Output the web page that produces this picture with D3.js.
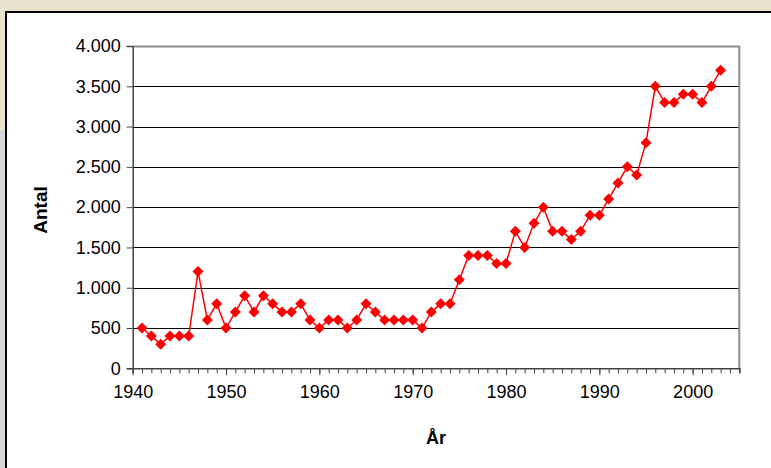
<!DOCTYPE html>
<html>
<head>
<meta charset="utf-8">
<script src="https://cdn.jsdelivr.net/npm/d3@7"></script>
<style>
  body { margin: 0; background: #e8e4cc; }
  svg { display: block; font-family: "Liberation Sans", Arial, sans-serif; }
</style>
</head>
<body>
<div class="content"></div>
<script>
// years and yearly counts (Antal)
var years = [1941,1942,1943,1944,1945,1946,1947,1948,1949,1950,
             1951,1952,1953,1954,1955,1956,1957,1958,1959,1960,
             1961,1962,1963,1964,1965,1966,1967,1968,1969,1970,
             1971,1972,1973,1974,1975,1976,1977,1978,1979,1980,
             1981,1982,1983,1984,1985,1986,1987,1988,1989,1990,
             1991,1992,1993,1994,1995,1996,1997,1998,1999,2000,
             2001,2002,2003];
var antal = [500,400,300,400,400,400,1200,600,800,500,
             700,900,700,900,800,700,700,800,600,500,
             600,600,500,600,800,700,600,600,600,600,
             500,700,800,800,1100,1400,1400,1400,1300,1300,
             1700,1500,1800,2000,1700,1700,1600,1700,1900,1900,
             2100,2300,2500,2400,2800,3500,3300,3300,3400,3400,
             3300,3500,3700];
var xTicks = [1940,1950,1960,1970,1980,1990,2000];
var yTicks = [0,500,1000,1500,2000,2500,3000,3500,4000];

var W = 771, H = 468;
var svg = d3.select(".content").append("svg")
  .attr("width", W).attr("height", H)

// page background: beige band, grey strip left of the frame
svg.append("rect").attr("width", W).attr("height", H).attr("fill", "#e8e4cc")
svg.append("rect").attr("x", 0).attr("y", 130).attr("width", 7).attr("height", H - 130)
  .attr("fill", "#d6d6d6")
svg.append("rect").attr("x", 6).attr("y", 12).attr("width", W).attr("height", H)
  .attr("fill", "#fff").attr("stroke", "#000").attr("stroke-width", 2)

var x = d3.scaleLinear().domain([1940, 2005]).range([132.7, 739.3]);
var y = d3.scaleLinear().domain([0, 4000]).range([368.3, 46]);

// gridlines
svg.append("g").selectAll("line")
  .data(yTicks.slice(1, -1))
  .enter().append("line")
  .attr("x1", x(1940)).attr("x2", x(2005))
  .attr("y1", function(d) { return Math.round(y(d)) + 0.5; })
  .attr("y2", function(d) { return Math.round(y(d)) + 0.5; })
  .attr("stroke", "#000").attr("stroke-width", 1)

// plot border top / right
svg.append("path")
  .attr("d", "M" + x(1940) + "," + (Math.round(y(4000)) + 0.5) + "H" + x(2005) + "V" + y(0))
  .attr("fill", "none").attr("stroke", "#8c8c8c").attr("stroke-width", 2)

// y axis
var yAxis = svg.append("g")
  .attr("transform", "translate(" + x(1940) + ",0)")
  .call(d3.axisLeft(y).tickValues(yTicks).tickSize(6).tickPadding(6)
    .tickFormat(function(d) { return d3.format(",")(d).replace(/,/g, "."); }))
yAxis.select(".domain").attr("stroke", "#444").attr("stroke-width", 1.5)
yAxis.selectAll("line").attr("stroke", "#444")
yAxis.selectAll("text").attr("font-size", "18px").attr("fill", "#000")
  .attr("font-family", "Liberation Sans, Arial, sans-serif")

// x axis: minor ticks every year, major every 10
var xAxisMinor = svg.append("g")
  .attr("transform", "translate(0," + y(0) + ")")
  .call(d3.axisBottom(x).tickValues(d3.range(1940, 2006)).tickSize(5).tickFormat(""))
xAxisMinor.select(".domain").attr("stroke", "#444").attr("stroke-width", 1.5)
xAxisMinor.selectAll("line").attr("stroke", "#444")

var xAxis = svg.append("g")
  .attr("transform", "translate(0," + y(0) + ")")
  .call(d3.axisBottom(x).tickValues(xTicks).tickSize(7).tickPadding(10).tickFormat(d3.format("d")))
xAxis.select(".domain").remove()
xAxis.selectAll("line").attr("stroke", "#444")
xAxis.selectAll("text").attr("font-size", "18px").attr("fill", "#000")
  .attr("font-family", "Liberation Sans, Arial, sans-serif")

// series line
var data = years.map(function(d, i) { return [d, antal[i]]; });
svg.append("path")
  .datum(data)
  .attr("fill", "none").attr("stroke", "#ff0000").attr("stroke-width", 1.5)
  .attr("d", d3.line().x(function(d) { return x(d[0]); }).y(function(d) { return y(d[1]); }))

// diamond markers
svg.append("g").selectAll("path")
  .data(data)
  .enter().append("path")
  .attr("transform", function(d) { return "translate(" + x(d[0]) + "," + y(d[1]) + ")"; })
  .attr("d", "M0,-5.5L5.5,0L0,5.5L-5.5,0Z")
  .attr("fill", "#ff0000")

// axis titles
svg.append("text")
  .attr("transform", "translate(47,210) rotate(-90)")
  .attr("text-anchor", "middle")
  .attr("font-size", "19px").attr("font-weight", "bold")
  .text("Antal")

svg.append("text")
  .attr("x", 436).attr("y", 444)
  .attr("text-anchor", "middle")
  .attr("font-size", "18px").attr("font-weight", "bold")
  .text("År")
</script>
</body>
</html>
